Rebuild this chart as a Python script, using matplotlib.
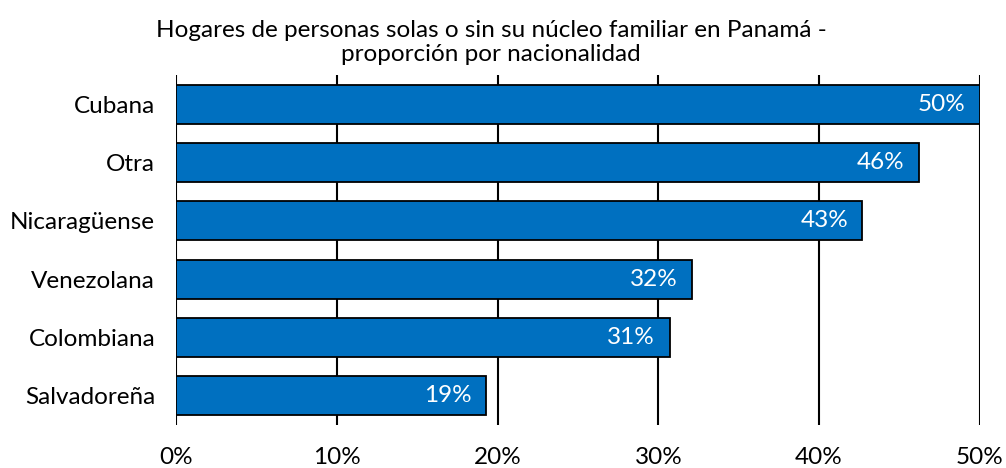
import matplotlib.pyplot as plt

categorias = ['Cubana', 'Otra', 'Nicaragüense', 'Venezolana', 'Colombiana', 'Salvadoreña']
valores = [50.0, 46.2, 42.7, 32.1, 30.7, 19.3]
etiquetas = ['50%', '46%', '43%', '32%', '31%', '19%']
ticks = [0, 10, 20, 30, 40, 50]

plt.rcParams['font.family'] = ['Lato', 'DejaVu Sans']

fig = plt.figure(figsize=(10.06, 4.68), dpi=100)
ax = fig.add_axes([0.175, 0.0919, 0.799, 0.748])

pos = list(range(len(categorias)))
ax.barh(pos, valores, height=0.67, color='#0070C0', edgecolor='black', linewidth=1.3, zorder=3)
for p, v, t in zip(pos, valores, etiquetas):
    ax.text(v - 0.9, p, t, color='white', ha='right', va='center', fontsize=17.5, zorder=4)

ax.set_ylim(5.5, -0.5)
ax.set_xlim(0, 50)
ax.set_yticks(pos)
ax.set_yticklabels(categorias, fontsize=17.5)
ax.set_xticks(ticks)
ax.set_xticklabels([f'{t}%' for t in ticks], fontsize=17.5)
ax.tick_params(axis='both', length=0)
ax.tick_params(axis='x', pad=16)
ax.tick_params(axis='y', pad=15)
ax.xaxis.grid(True, color='black', linewidth=1.5, zorder=0)
for s in ax.spines.values():
    s.set_visible(False)

fig.text(0.488, 0.909, 'Hogares de personas solas o sin su núcleo familiar en Panamá -\nproporción por nacionalidad',
         ha='center', va='center', fontsize=17.5, linespacing=1.22)

fig.savefig('out.png', dpi=100)
